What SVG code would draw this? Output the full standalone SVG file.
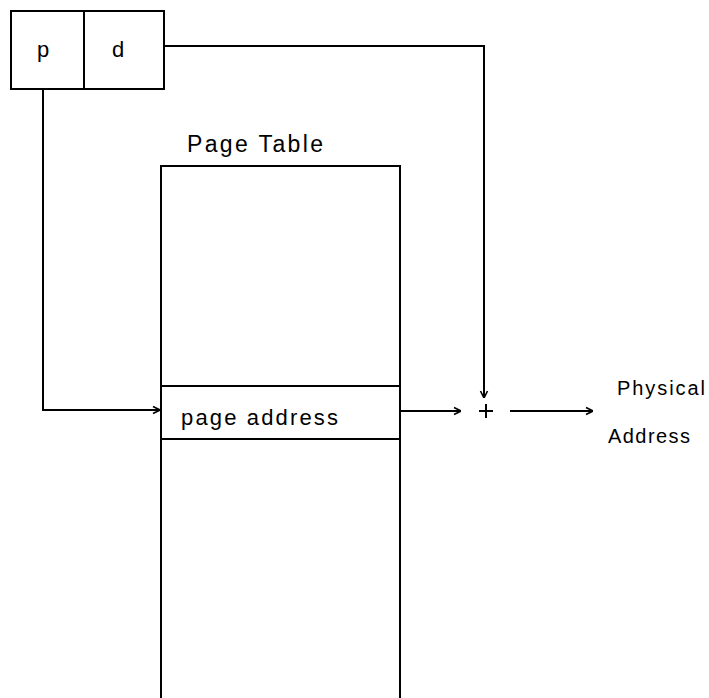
<svg xmlns="http://www.w3.org/2000/svg" width="709" height="698" viewBox="0 0 709 698">
<style>
.ln{fill:none;stroke:#000;stroke-width:2}
.t{font-family:"Liberation Sans",Arial,sans-serif;fill:#000}
</style>
<defs>
<marker id="ah" viewBox="0 0 10 10" refX="10" refY="5" markerWidth="10" markerHeight="10" markerUnits="userSpaceOnUse" orient="auto">
<polyline points="3,1.5 10,5 3,8.5" fill="none" stroke="#000" stroke-width="1.6"/>
</marker>
</defs>
<rect width="709" height="698" fill="#fff"/>
<g id="address">
<rect class="ln" x="11" y="11" width="153" height="78"/>
<line class="ln" x1="84" y1="11" x2="84" y2="89"/>
<text class="t" x="43" y="57" font-size="22" text-anchor="middle">p</text>
<text class="t" x="118" y="57" font-size="22" text-anchor="middle">d</text>
</g>
<g id="pagetable">
<text class="t" x="187" y="152" font-size="23" textLength="136" lengthAdjust="spacing">Page Table</text>
<rect class="ln" x="161" y="166" width="239" height="540"/>
<line class="ln" x1="161" y1="386" x2="400" y2="386"/>
<line class="ln" x1="161" y1="439" x2="400" y2="439"/>
<text class="t" x="181" y="425" font-size="22" textLength="157" lengthAdjust="spacing">page address</text>
</g>
<g id="plus">
<line class="ln" x1="479" y1="411" x2="493" y2="411"/>
<line class="ln" x1="486" y1="404" x2="486" y2="418"/>
</g>
<g id="physical">
<text class="t" x="617" y="395" font-size="20" textLength="88" lengthAdjust="spacing">Physical</text>
<text class="t" x="608" y="443" font-size="20" textLength="82" lengthAdjust="spacing">Address</text>
</g>
<g id="connectors">
<polyline class="ln" points="164,46 484,46 484,398" marker-end="url(#ah)"/>
<polyline class="ln" points="43,89 43,410 160,410" marker-end="url(#ah)"/>
<line class="ln" x1="400" y1="411" x2="461" y2="411" marker-end="url(#ah)"/>
<line class="ln" x1="510" y1="411" x2="593" y2="411" marker-end="url(#ah)"/>
</g>
</svg>
